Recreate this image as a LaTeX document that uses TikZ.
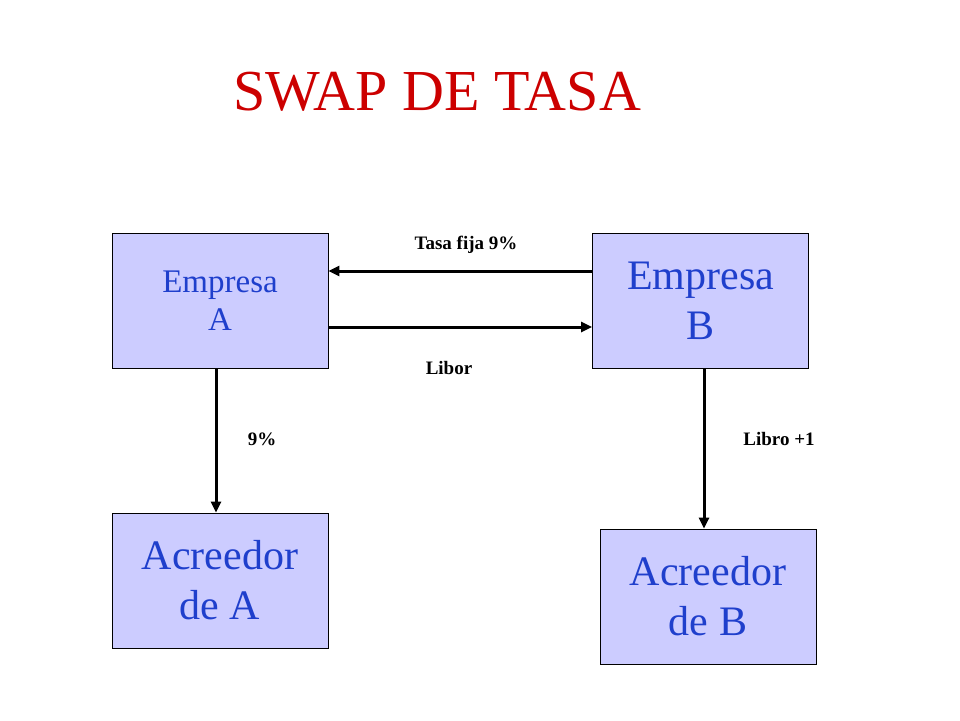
\documentclass[tikz,border=0pt]{standalone}
\usepackage{fontspec}
\setmainfont{Liberation Serif}
\usetikzlibrary{arrows.meta}
\definecolor{boxfill}{HTML}{CCCCFF}
\definecolor{txtblue}{HTML}{1F3FCC}
\definecolor{titred}{HTML}{CC0000}
\begin{document}
\begin{tikzpicture}[x=1pt,y=-1pt,
  box/.style={draw=black,line width=0.8pt,fill=boxfill,minimum width=216pt,minimum height=135pt,inner sep=0pt,text=txtblue,align=center},
  conn/.style={line width=3pt,-{Triangle[length=11pt,width=10pt]}},
  lab/.style={font=\fontsize{19}{22}\selectfont\bfseries}]
\useasboundingbox (0,0) rectangle (960,720);
\node[text=titred,font=\fontsize{58}{60}\selectfont] (title) at (437,92) {SWAP DE TASA};
\node[box,font=\fontsize{33}{38}\selectfont] (ea) at (220,300.5) {Empresa\\A};
\node[box,font=\fontsize{42}{50}\selectfont] (eb) at (700.5,300.5) {Empresa\\B};
\node[box,font=\fontsize{42}{50}\selectfont] (aa) at (220,580.5) {Acreedor\\de A};
\node[box,font=\fontsize{42}{50}\selectfont] (ab) at (708,596.5) {Acreedor\\de B};
\draw[conn] (eb.west|-0,271) -- (ea.east|-0,271);
\draw[conn] (ea.east|-0,327) -- (eb.west|-0,327);
\draw[conn] (ea.south-|216,0) -- (aa.north-|216,0);
\draw[conn] (eb.south-|704,0) -- (ab.north-|704,0);
\node[lab] (l1) at (466,245) {Tasa fija 9\%};
\node[lab] (l2) at (449,368) {Libor};
\node[lab] (l3) at (262,439) {9\%};
\node[lab] (l4) at (779,439) {Libro +1};
\end{tikzpicture}
\end{document}
